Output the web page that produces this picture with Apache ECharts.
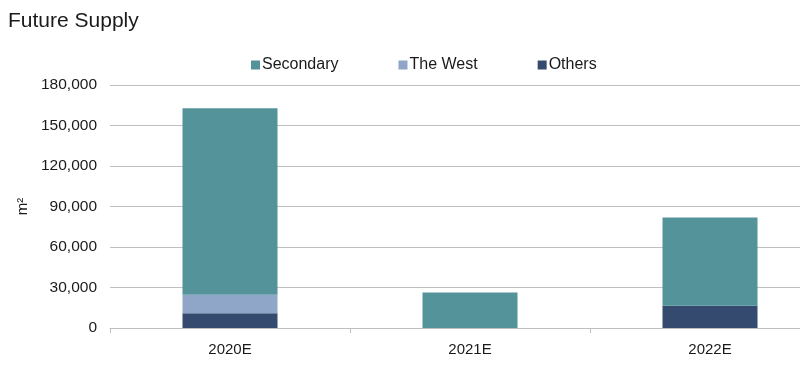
<!DOCTYPE html>
<html>
<head>
<meta charset="utf-8">
<script src="https://cdn.jsdelivr.net/npm/echarts@6/dist/echarts.min.js"></script>
<style>
html,body{margin:0;padding:0;background:#fff;overflow:hidden;width:800px;height:365px;}
#c{width:830px;height:365px;}
</style>
</head>
<body>
<div id="c"></div>
<script>
const categories = ['2020E', '2021E', '2022E'];
const others = [11000, 0, 16500];
const theWest = [13600, 0, 0];
const secondary = [138100, 26300, 65300];
const yTicks = {min: 0, max: 180000, interval: 30000};

const font = 'Liberation Sans, Arial, sans-serif';
const chart = echarts.init(document.getElementById('c'));
chart.setOption({
  backgroundColor: '#ffffff',
  animation: false,
  title: {
    text: 'Future Supply',
    left: 3,
    top: 6,
    textStyle: {fontFamily: font, fontSize: 21, fontWeight: 'normal', color: '#1a1a1a'}
  },
  legend: {
    data: ['Secondary', 'The West', 'Others'],
    left: 246,
    top: 52,
    itemWidth: 9,
    itemHeight: 9,
    itemGap: 60,
    icon: 'rect',
    textStyle: {fontFamily: font, fontSize: 16, color: '#1a1a1a', padding: [0, 0, 0, -3]}
  },
  grid: {left: 110, top: 85, width: 720, height: 243, containLabel: false},
  xAxis: {
    type: 'category',
    data: categories,
    axisLine: {show: true, lineStyle: {color: '#bfbfbf', width: 1}},
    axisTick: {show: true, length: 5, lineStyle: {color: '#bfbfbf'}},
    axisLabel: {fontFamily: font, fontSize: 15, color: '#1a1a1a', margin: 14}
  },
  yAxis: {
    type: 'value',
    min: yTicks.min,
    max: yTicks.max,
    interval: yTicks.interval,
    name: 'm²',
    nameLocation: 'middle',
    nameGap: 76,
    nameRotate: 90,
    nameTextStyle: {fontFamily: font, fontSize: 15, color: '#1a1a1a'},
    axisLine: {show: false},
    axisTick: {show: false},
    splitLine: {lineStyle: {color: '#bfbfbf', width: 1}},
    axisLabel: {
      fontFamily: font, fontSize: 15.5, color: '#1a1a1a', margin: 13,
      formatter: v => v.toLocaleString('en-US')
    }
  },
  series: [
    {name: 'Others', type: 'bar', stack: 's', data: others, barWidth: 95, itemStyle: {color: '#344a6e'}},
    {name: 'The West', type: 'bar', stack: 's', data: theWest, barWidth: 95, itemStyle: {color: '#8fa6c8'}},
    {name: 'Secondary', type: 'bar', stack: 's', data: secondary, barWidth: 95, itemStyle: {color: '#54939a'}}
  ]
});
</script>
</body>
</html>
